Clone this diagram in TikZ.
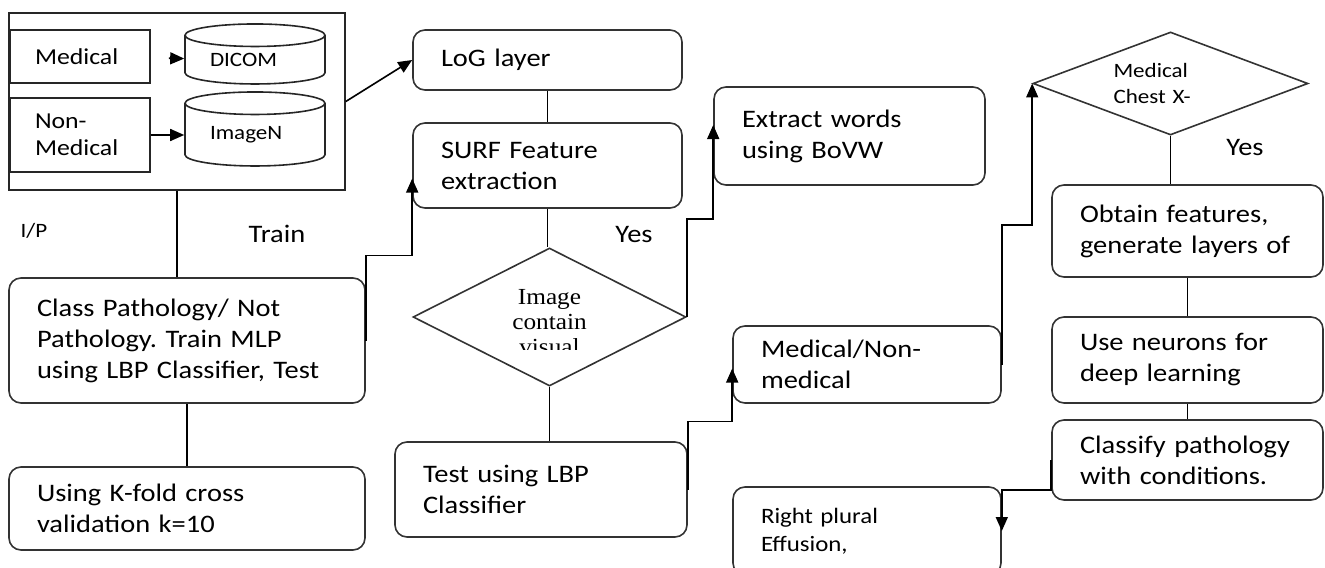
\documentclass[tikz,border=0pt]{standalone}
\usepackage{fontspec}
\setmainfont{Carlito}[FakeStretch=1.13]
\newfontfamily\dsgfont{Liberation Serif}[FakeStretch=1.1]
\usetikzlibrary{shapes.geometric,arrows.meta}
\frenchspacing
\hyphenpenalty=10000

\tikzset{
	box/.style 2 args={draw=black!80, rounded corners=6pt, align=left,
		inner xsep=14pt, inner ysep=0pt, text width=#1, minimum height=#2,
		font=\fontsize{12.6}{15.5}\selectfont},
	sqbox/.style 2 args={draw=black!85, align=left, inner xsep=12.5pt,
		inner ysep=0pt, text width=#1, minimum height=#2,
		font=\fontsize{11.4}{13.5}\selectfont},
	db/.style 2 args={draw=black!85, cylinder, shape border rotate=90,
		aspect=0.25, inner sep=0pt, minimum width=#1, minimum height=#2,
		text width=45pt, align=left, font=\fontsize{10.2}{12}\selectfont},
	dsg/.style 2 args={draw=black!80, diamond, inner sep=0pt,
		minimum width=#1, minimum height=#2},
	lbl/.style={font=\fontsize{12.6}{15}\selectfont},
}

\begin{document}
\begin{tikzpicture}[x=0.5pt,y=-0.5pt,line width=0.8pt,
	>={Triangle[length=7pt,width=6pt]}]
	\useasboundingbox (0,0) rectangle (1325,567);
	
	% input block
	\node[draw=black!85, minimum width=168pt, minimum height=88.5pt] (Input) at (177,101.5) {};
	\node[sqbox={45pt}{26.5pt}] (Med) at (80,56.5) {Medical};
	\node[sqbox={45pt}{37pt}] (NonMed) at (80,135) {Non-\\Medical};
	\node[db={70pt}{30pt}] (Dicom) at (255,60) {DICOM};
	\node[db={70pt}{37pt}] (ImgN) at (255,135) {ImageN};
	
	\node[box={106.5pt}{30pt}] (LoG) at (547.5,60) {LoG layer};
	\node[box={106.5pt}{42.5pt}] (Surf) at (547.5,165.5) {SURF Feature\\extraction};
	\node[box={107.5pt}{49pt}] (Extract) at (849.5,136) {Extract words\\using BoVW};
	\node[box={150pt}{62.5pt}] (Class) at (187,340.5)
		{Class Pathology/ Not\\Pathology. Train MLP\\using LBP Classifier, Test};
	\node[box={150pt}{41.5pt}] (KFold) at (187,508.5) {Using K-fold cross\\validation k=10};
	\node[box={118pt}{47.5pt}] (Test) at (541,489.5) {Test using LBP\\Classifier};
	\node[box={106pt}{38.5pt}] (MedNon) at (867,364.5) {Medical/Non-\\medical};
	\node[box={106pt}{44pt}, font=\fontsize{11}{14}\selectfont] (Plural) at (867,531)
		{Right plural\\Effusion,};
	\node[box={107.5pt}{46pt}] (Obtain) at (1187.5,231) {Obtain features,\\generate layers of};
	\node[box={107.5pt}{43pt}] (Neurons) at (1187.5,360) {Use neurons for\\deep learning};
	\node[box={107.5pt}{40pt}] (Classify) at (1187.5,460) {Classify pathology\\with conditions.};
	
	% decisions
	\node[dsg={136.5pt}{69pt}] (Image) at (549.5,317) {};
	\begin{scope}
		\clip (413,248) rectangle (686,349);
		\node[align=center, font=\dsgfont\fontsize{11.5}{12.5}\selectfont] (ImageTxt) at (549.5,322)
			{Image\\contain\\visual};
	\end{scope}
	\node[dsg={137.5pt}{51.5pt}, aspect=2.67, text width=57pt, align=left,
		font=\fontsize{10.2}{13}\selectfont] (Chest) at (1170.5,83.5) {Medical\\Chest X-};
	
	\node[lbl, font=\fontsize{10.2}{12}\selectfont] (IP) at (34,231) {I/P};
	\node[lbl] (Train) at (277,234) {Train};
	\node[lbl] (Yes1) at (634,235) {Yes};
	\node[lbl] (Yes2) at (1245,148) {Yes};
	
	% connectors
	\draw[->, shorten <=9pt] (Med) -- (Dicom);
	\draw[->] (NonMed) -- (ImgN);
	\draw[->] (Input.east) -- (LoG.west);
	\draw (Input.south) -- (Input.south |- Class.north);
	\draw (Class) -- (KFold);
	\draw[->] (Class.east) -- ++(0,-85) -| ([yshift=-6.5pt]Surf.west);
	\draw (LoG) -- (Surf);
	\draw (Surf.south) -- (Surf.south |- Image.north);
	\draw[->] (Image.east) -- ++(0,-98) -| ([yshift=5.5pt]Extract.west);
	\draw (Image.south) -- (Image.south |- Test.north);
	\draw[->] (Test.east) -- ++(0,-68) -| ([yshift=-2pt]MedNon.west);
	\draw[->] (MedNon.east) -- ++(0,-139.5) -| (Chest.west);
	\draw (Chest.south) -- (Chest.south |- Obtain.north);
	\draw (Obtain) -- (Neurons);
	\draw (Neurons) -- (Classify);
	\draw[->] (Classify.west) -- ++(0,30) -| (Plural.east);
\end{tikzpicture}
\end{document}
